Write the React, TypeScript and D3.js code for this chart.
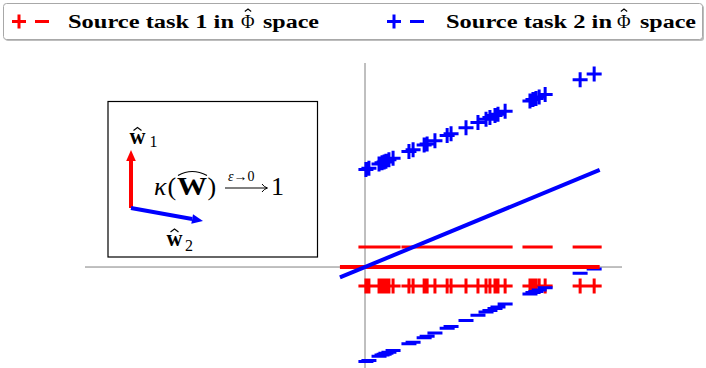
import React from 'react'
import * as d3 from 'd3'

const W = 706
const H = 368

// sample positions along the horizontal direction (same for both tasks)
const sampleX = [0.004, 0.017, 0.061, 0.074, 0.083, 0.091, 0.104, 0.122, 0.191, 0.209, 0.257, 0.27, 0.304, 0.357, 0.374, 0.439, 0.491, 0.526, 0.543, 0.565, 0.578, 0.609, 0.717, 0.73, 0.743, 0.757, 0.783, 0.935, 0.996]

// task 2 (blue) heights for the "+" and "-" samples
const task2PlusY = [0.424, 0.429, 0.448, 0.453, 0.457, 0.46, 0.466, 0.473, 0.502, 0.51, 0.53, 0.535, 0.549, 0.572, 0.579, 0.606, 0.628, 0.642, 0.65, 0.659, 0.664, 0.677, 0.722, 0.728, 0.733, 0.739, 0.75, 0.814, 0.839]
const task2MinusY = [-0.411, -0.406, -0.388, -0.382, -0.379, -0.375, -0.37, -0.363, -0.334, -0.327, -0.307, -0.301, -0.287, -0.266, -0.259, -0.232, -0.21, -0.196, -0.189, -0.18, -0.174, -0.161, -0.117, -0.111, -0.106, -0.1, -0.09, -0.027, -0.009]

// task 1 (red) samples sit on two flat levels
const task1PlusY = -0.083
const task1MinusY = 0.087

// separating directions
const boundaryX = [-0.109, 1.02]
const task1Slope = 0
const task2Slope = 0.414

const legendLabels = ['Source task 1 in', 'Source task 2 in']
const legendTail = 'space'

const RED = '#ff0000'
const BLUE = '#0000ff'
const SERIF = '"Liberation Serif", "Times New Roman", serif'

const x = d3.scaleLinear().domain([-1.217, 1.117]).range([85, 622])
const y = d3.scaleLinear().domain([-0.439, 0.887]).range([368, 63])

const MS = 7.5

function plus(cx: number, cy: number, s = MS) {
  return `M${cx - s},${cy}h${2 * s}M${cx},${cy - s}v${2 * s}`
}
function minus(cx: number, cy: number, s = MS) {
  return `M${cx - s},${cy}h${2 * s}`
}

function Hat({ cx, cy, w = 4, h = 3 }: { cx: number; cy: number; w?: number; h?: number }) {
  return <path d={`M${cx - w},${cy}L${cx},${cy - h}L${cx + w},${cy}`} fill="none" stroke="black" strokeWidth={1.1} />
}

function Legend() {
  const items = [
    { color: RED, mx: 19, tx: 68, label: legendLabels[0], phiX: 241, spaceX: 263 },
    { color: BLUE, mx: 394, tx: 446, label: legendLabels[1], phiX: 617, spaceX: 640 },
  ]
  return (
    <g style={{ fontFamily: SERIF }}>
      <rect x={5} y={5} width={699} height={36} rx={3} fill="#bdbdbd" />
      <rect x={3.5} y={3.5} width={699} height={36} rx={3} fill="white" stroke="#a8a8a8" strokeWidth={1} />
      {items.map((it, i) => (
        <g key={i}>
          <path d={plus(it.mx, 21.5, 7) + minus(it.mx + 23, 21.5, 7)} stroke={it.color} strokeWidth={3} fill="none" />
          <text x={it.tx} y={28} fontWeight="bold" fontSize={18.5} textLength={166} lengthAdjust="spacingAndGlyphs">
            {it.label}
          </text>
          <text x={it.phiX} y={28} fontSize={18.5}>Φ</text>
          <Hat cx={it.phiX + 7} cy={11.5} w={3.2} h={2.5} />
          <text x={it.spaceX} y={28} fontWeight="bold" fontSize={18.5} textLength={56} lengthAdjust="spacingAndGlyphs">
            {legendTail}
          </text>
        </g>
      ))}
    </g>
  )
}

function Inset() {
  const o = [131, 208]
  const red = [131, 150]
  const blue = [203, 221]
  const head = (from: number[], to: number[], color: string) => {
    const a = Math.atan2(to[1] - from[1], to[0] - from[0])
    const L = 11, Wd = 4.8
    const bx = to[0] - L * Math.cos(a), by = to[1] - L * Math.sin(a)
    const px = -Math.sin(a) * Wd, py = Math.cos(a) * Wd
    return (
      <g>
        <line x1={from[0]} y1={from[1]} x2={bx} y2={by} stroke={color} strokeWidth={4} />
        <path d={`M${to[0]},${to[1]}L${bx + px},${by + py}L${bx - px},${by - py}Z`} fill={color} />
      </g>
    )
  }
  return (
    <g>
      <rect x={108} y={101.5} width={209.5} height={155.5} fill="white" stroke="black" strokeWidth={1.2} />
      {head(o, red, RED)}
      {head(o, blue, BLUE)}
      <g style={{ fontFamily: SERIF }}>
        <text x={129.5} y={144} fontWeight="bold" fontSize={24} textLength={16} lengthAdjust="spacingAndGlyphs">w</text>
        <Hat cx={137.5} cy={130.5} />
        <text x={149.5} y={147} fontSize={16}>1</text>
        <text x={166.5} y={245.5} fontWeight="bold" fontSize={24} textLength={16} lengthAdjust="spacingAndGlyphs">w</text>
        <Hat cx={174.5} cy={232} />
        <text x={185} y={250.5} fontSize={16}>2</text>

        <text x={154} y={195} fontStyle="italic" fontSize={26}>κ</text>
        <text x={167.5} y={195} fontSize={26}>(</text>
        <text x={177} y={195} fontWeight="bold" fontSize={26} textLength={30} lengthAdjust="spacingAndGlyphs">W</text>
        <path d="M178,175.5Q192,167.5 207,175.5" fill="none" stroke="black" strokeWidth={1.1} />
        <text x={207.5} y={195} fontSize={26}>)</text>
        <line x1={225} y1={188} x2={266} y2={188} stroke="black" strokeWidth={1} />
        <path d="M262,184Q264,187 267.5,188Q264,189 262,192" fill="none" stroke="black" strokeWidth={1} />
        <text x={228} y={181} fontSize={14}>
          <tspan fontStyle="italic">ε</tspan>→0
        </text>
        <text x={271} y={195} fontSize={26}>1</text>
      </g>
    </g>
  )
}

export default function App() {
  const lineGen = (slope: number) =>
    d3.line<number>().x((d) => x(d)).y((d) => y(slope * d))(boundaryX) as string

  const redPlus = sampleX.map((d) => plus(x(d), y(task1PlusY))).join('')
  const redMinus = sampleX.map((d) => minus(x(d), y(task1MinusY))).join('')
  const bluePlus = sampleX.map((d, i) => plus(x(d), y(task2PlusY[i]))).join('')
  const blueMinus = sampleX.map((d, i) => minus(x(d), y(task2MinusY[i]))).join('')

  return (
    <div style={{ position: 'absolute', left: 0, top: 0 }}>
      <svg width={W} height={H} style={{ display: 'block', background: 'white' }}>
        {/* axes */}
        <line x1={x(-1.217)} x2={x(1.117)} y1={y(0)} y2={y(0)} stroke="#808080" strokeWidth={1} />
        <line x1={x(0)} x2={x(0)} y1={y(0.887)} y2={H} stroke="#808080" strokeWidth={1} />

        <path d={redPlus} stroke={RED} strokeWidth={3} fill="none" />
        <path d={redMinus} stroke={RED} strokeWidth={3} fill="none" />
        <path d={bluePlus} stroke={BLUE} strokeWidth={3} fill="none" />
        <path d={blueMinus} stroke={BLUE} strokeWidth={3} fill="none" />

        <path d={lineGen(task1Slope)} stroke={RED} strokeWidth={4} fill="none" />
        <path d={lineGen(task2Slope)} stroke={BLUE} strokeWidth={4} fill="none" />

        <Inset />
        <Legend />
      </svg>
    </div>
  )
}
